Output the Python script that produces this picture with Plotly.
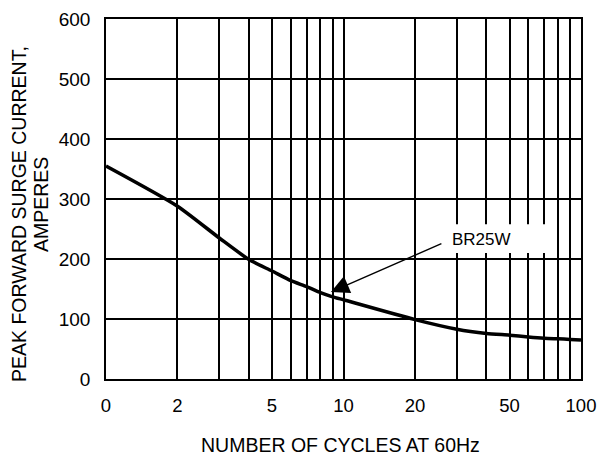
import math
import plotly.graph_objects as go

# ---- data ----
cycles = [1, 2, 3, 4, 5, 6, 7, 8, 9, 10, 20, 30, 40, 50, 60, 70, 80, 90, 100]
surge_current = [355, 288, 235, 199, 180, 164, 154, 144, 137, 132, 99, 83, 76, 73, 70, 68, 67, 66, 65]
series_name = "BR25W"

x_tick_vals = [1, 2, 5, 10, 20, 50, 100]
x_tick_text = ["0", "2", "5", "10", "20", "50", "100"]
x_minor_vals = [3, 4, 6, 7, 8, 9, 30, 40, 60, 70, 80, 90]
y_tick_vals = [0, 100, 200, 300, 400, 500, 600]

FONT = "Liberation Sans, Arial, Helvetica, sans-serif"

# the page body adds an 8px margin around the figure; keep the page
# inside the 605x464 window so no scrollbars appear
OFF = 8
W, H = 605 - 2 * OFF, 464 - 2 * OFF
# plot area in window pixels
PL, PT, PR, PB = 106, 19, 581, 379
L, T = PL - OFF, PT - OFF
R, B = W - (PR - OFF), H - (PB - OFF)
pw, ph = PR - PL, PB - PT

def px_to_paper_x(px):
    return (px - PL) / pw

def px_to_paper_y(py):
    return (PB - py) / ph

fig = go.Figure()
fig.add_trace(go.Scatter(
    x=cycles, y=surge_current, mode="lines", name=series_name,
    line=dict(color="black", width=3.5, shape="spline", smoothing=0.6),
    showlegend=False,
))

fig.update_layout(
    width=W, height=H,
    margin=dict(l=L, r=R, t=T, b=B, pad=0, autoexpand=False),
    paper_bgcolor="white", plot_bgcolor="white",
    font=dict(family=FONT, size=19, color="black"),
    xaxis=dict(
        type="log", range=[0, 2], automargin=False,
        tickvals=x_tick_vals, ticktext=x_tick_text,
        ticklabeloverflow="allow",
        showgrid=True, gridcolor="black", gridwidth=1.6,
        minor=dict(tickvals=x_minor_vals, showgrid=True, gridcolor="black", gridwidth=1.6, ticks=""),
        showline=True, linecolor="black", linewidth=1.6, mirror=True,
        ticks="", ticklabelstandoff=9, zeroline=False,
        tickfont=dict(size=18.5, color="black"),
    ),
    yaxis=dict(
        range=[0, 600], tickvals=y_tick_vals, automargin=False,
        ticklabeloverflow="allow",
        showgrid=True, gridcolor="black", gridwidth=1.6,
        showline=True, linecolor="black", linewidth=1.6, mirror=True,
        ticks="", ticklabelstandoff=10, zeroline=False,
        tickfont=dict(size=19, color="black"),
    ),
)

# white box behind the series label (interrupts the grid)
fig.add_shape(
    type="rect", xref="paper", yref="y",
    x0=px_to_paper_x(441), x1=px_to_paper_x(556), y0=210, y1=258,
    fillcolor="white", line=dict(width=0), layer="above",
)

# arrow pointing at the curve
tip_x, tip_y = 8.85, 145
fig.add_annotation(
    x=math.log10(tip_x), y=tip_y, xref="x", yref="y",
    text="", showarrow=True, ax=112, ay=-49,
    arrowhead=2, arrowsize=2.6, arrowwidth=1.4, arrowcolor="black",
)
# series label
fig.add_annotation(
    x=math.log10(28), y=233, xref="x", yref="y",
    text=series_name, showarrow=False, xanchor="left", yanchor="middle",
    font=dict(size=17, color="black", family=FONT),
)

# axis titles
fig.add_annotation(
    x=px_to_paper_x(340.5), y=px_to_paper_y(445), xref="paper", yref="paper",
    text="NUMBER OF CYCLES AT 60Hz", showarrow=False,
    xanchor="center", yanchor="middle",
    font=dict(size=19.5, color="black", family=FONT),
)
fig.add_annotation(
    x=px_to_paper_x(19), y=px_to_paper_y(214), xref="paper", yref="paper",
    text="PEAK FORWARD SURGE CURRENT,", showarrow=False, textangle=-90,
    xanchor="center", yanchor="middle",
    font=dict(size=19.5, color="black", family=FONT),
)
fig.add_annotation(
    x=px_to_paper_x(41), y=px_to_paper_y(205), xref="paper", yref="paper",
    text="AMPERES", showarrow=False, textangle=-90,
    xanchor="center", yanchor="middle",
    font=dict(size=19.5, color="black", family=FONT),
)

fig.write_html("out.html")
